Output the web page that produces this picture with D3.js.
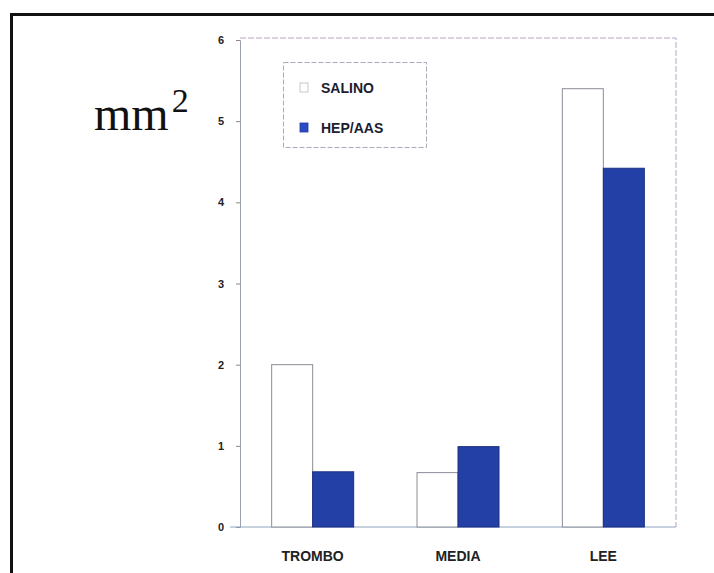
<!DOCTYPE html>
<html>
<head>
<meta charset="utf-8">
<script src="https://cdn.jsdelivr.net/npm/d3@7"></script>
<style>
  body { margin: 0; background: #fff; }
  svg { display: block; }
</style>
</head>
<body>
<svg id="chart" width="714" height="573"></svg>
<script>
// data
const categories = ['TROMBO', 'MEDIA', 'LEE'];
const seriesNames = ['SALINO', 'HEP/AAS'];
const salino = [2.0, 0.67, 5.4];
const hepAas = [0.68, 0.99, 4.42];
const yTicks = [0, 1, 2, 3, 4, 5, 6];

const svg = d3.select('#chart');
const margin = { left: 240, right: 38, top: 40, bottom: 46 };
const width = 714, height = 573;

// outer frame
svg.append('rect')
    .attr('x', 11.5).attr('y', 14.5)
    .attr('width', 720).attr('height', 600)
    .attr('fill', 'none')
    .attr('stroke', '#111')
    .attr('stroke-width', 3);

const x = d3.scaleBand()
    .domain(categories)
    .range([margin.left, width - margin.right]);

const y = d3.scaleLinear()
    .domain([0, 6])
    .range([height - margin.bottom, margin.top]);

const barW = 41;

// plot border (top and right)
svg.append('path')
    .attr('d', `M${margin.left},${y(6) - 2}H${width - margin.right}V${y(0)}`)
    .attr('fill', 'none')
    .attr('stroke', '#b9a3c4')
    .attr('stroke-width', 1)
    .attr('stroke-dasharray', '6,2');

// y axis
const yAxis = d3.axisLeft(y).tickValues(yTicks).tickSize(4).tickPadding(12).tickFormat(d3.format('d'));
const gy = svg.append('g')
    .attr('transform', `translate(${margin.left},0)`)
    .call(yAxis);
gy.select('.domain').attr('stroke', '#9aa0b0');
gy.selectAll('.tick line').attr('stroke', '#888');
gy.selectAll('text')
    .attr('font-family', 'Liberation Sans, Arial, sans-serif')
    .attr('font-weight', 'bold')
    .attr('font-size', 11)
    .attr('fill', '#222');

// x axis baseline
svg.append('line')
    .attr('x1', margin.left - 10).attr('x2', width - margin.right)
    .attr('y1', y(0)).attr('y2', y(0))
    .attr('stroke', '#8ea4c0');

// bars
const groups = svg.append('g').selectAll('g')
    .data(categories)
    .enter().append('g');

groups.append('rect')
    .attr('x', (d, i) => x(d) + x.bandwidth() / 2 - barW)
    .attr('y', (d, i) => y(salino[i]))
    .attr('width', barW)
    .attr('height', (d, i) => y(0) - y(salino[i]))
    .attr('fill', '#fff')
    .attr('stroke', '#8a8d96')
    .attr('stroke-width', 1);

groups.append('rect')
    .attr('x', d => x(d) + x.bandwidth() / 2)
    .attr('y', (d, i) => y(hepAas[i]))
    .attr('width', barW)
    .attr('height', (d, i) => y(0) - y(hepAas[i]))
    .attr('fill', '#2340a6')
    .attr('stroke', '#1a2f80')
    .attr('stroke-width', 1);

// x labels
groups.append('text')
    .attr('x', d => x(d) + x.bandwidth() / 2)
    .attr('y', y(0) + 34)
    .attr('text-anchor', 'middle')
    .attr('font-family', 'Liberation Sans, Arial, sans-serif')
    .attr('font-weight', 'bold')
    .attr('font-size', 14)
    .attr('fill', '#222')
    .text(d => d);

// legend
const legend = svg.append('g');
legend.append('rect')
    .attr('x', 283.5).attr('y', 62.5)
    .attr('width', 143).attr('height', 85)
    .attr('fill', '#fff')
    .attr('stroke', '#b0a8b8')
    .attr('stroke-width', 1)
    .attr('stroke-dasharray', '5,2');

const swatchFill = ['#fff', '#2a4bc4'];
seriesNames.forEach((name, i) => {
    const ly = 88 + i * 40;
    legend.append('rect')
        .attr('x', 300).attr('y', ly - 5)
        .attr('width', 8).attr('height', 9)
        .attr('fill', swatchFill[i])
        .attr('stroke', i === 0 ? '#bbb' : '#1f3a9e')
        .attr('stroke-width', 0.8);
    legend.append('text')
        .attr('x', 321).attr('y', ly + 5)
        .attr('font-family', 'Liberation Sans, Arial, sans-serif')
        .attr('font-weight', 'bold')
        .attr('font-size', 14)
        .attr('fill', '#1c1c30')
        .text(name);
});

// unit label
const unit = svg.append('text')
    .attr('x', 94).attr('y', 130)
    .attr('font-family', 'Liberation Serif, Times New Roman, serif')
    .attr('font-size', 48)
    .attr('fill', '#111');
unit.append('tspan').text('mm');
unit.append('tspan').attr('dx', 3).attr('dy', -18).attr('font-size', 34).text('2');
</script>
</body>
</html>
